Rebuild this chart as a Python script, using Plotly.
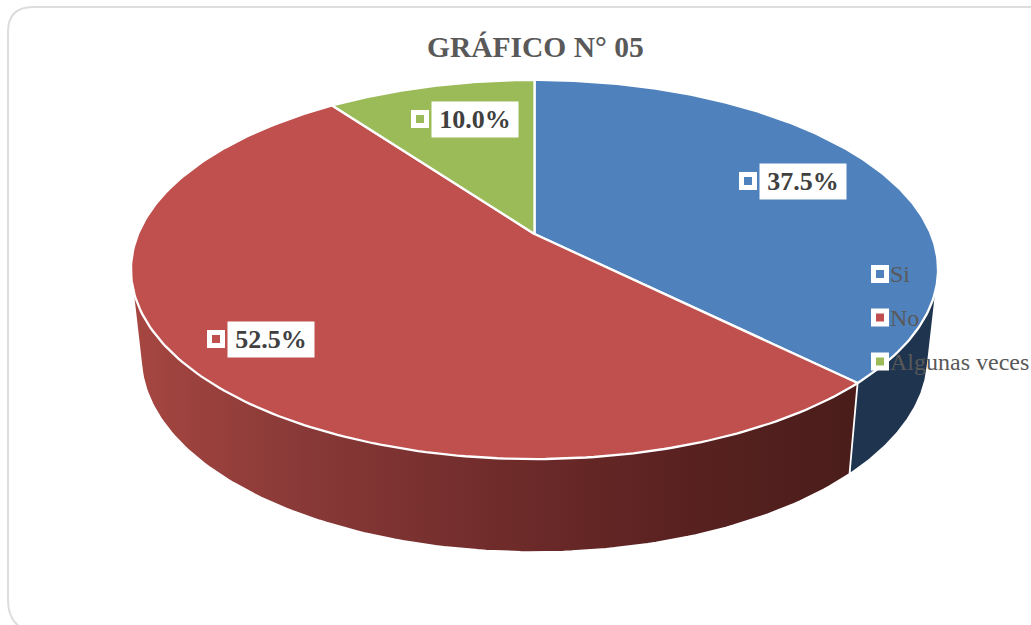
import numpy as np
import plotly.graph_objects as go

# ---- data ----
categories = ["Si", "No", "Algunas veces"]
values = [37.5, 52.5, 10.0]
title_text = "GRÁFICO N° 05"

# ---- style ----
top_colors = ["#4F81BD", "#C0504D", "#9BBB59"]
TEXT = "#404040"
GREY = "#595959"
SERIF = "Liberation Serif"

# ---- geometry of the tilted disc (page pixels) ----
CX, CY = 534.5, 234.0      # where the slices meet
RX, RY = 396.4, 182.9      # projected radii
PERSP = 0.1873             # perspective strength
BASE_SCALE = 0.975         # width of the base rim relative to the top rim
WALL, WALL_FRONT = 86.2, 6.8   # wall height, and how much it grows towards the viewer


def rim(theta_deg, base=False):
    t = np.radians(np.asarray(theta_deg, dtype=float))
    u, v = np.sin(t), -np.cos(t)
    w = 1 - PERSP * v
    x, y = CX + RX * u / w, CY + RY * v / w
    if base:
        x = CX + (x - CX) * BASE_SCALE
        y = y + WALL + WALL_FRONT * v
    return x, y


def hull(points):
    pts = sorted(set(points))
    def half(seq):
        out = []
        for p in seq:
            while len(out) > 1 and ((out[-1][0] - out[-2][0]) * (p[1] - out[-2][1])
                                    - (out[-1][1] - out[-2][1]) * (p[0] - out[-2][0])) <= 0:
                out.pop()
            out.append(p)
        return out[:-1]
    h = half(pts) + half(pts[::-1])
    return [p[0] for p in h] + [h[0][0]], [p[1] for p in h] + [h[0][1]]


def side_polygon(a0, a1):
    th = np.linspace(a0, a1, 160)
    xt, yt = rim(th)
    xb, yb = rim(th, base=True)
    return hull([(float(a), float(b)) for a, b in zip(np.r_[xt, xb], np.r_[yt, yb])])


fig = go.Figure()

edges = np.r_[0, np.cumsum(values)] / sum(values) * 360

# side walls: only those facing the viewer show
blue_end = edges[1]
x, y = side_polygon(60, blue_end)
fig.add_trace(go.Scatter(x=x, y=y, mode="lines", fill="toself", fillcolor="#1F344E",
                         line=dict(color="white", width=1.8), hoverinfo="skip", showlegend=False))
x, y = side_polygon(blue_end, 300)
fig.add_trace(go.Scatter(
    x=x, y=y, mode="lines", fill="toself",
    fillgradient=dict(type="horizontal", start=135, stop=850,
                      colorscale=[[0, "#A64641"], [0.22, "#8A3A38"], [0.5, "#702C2B"],
                                  [0.75, "#5A2221"], [1, "#4A1D1B"]]),
    line=dict(color="white", width=1.8), hoverinfo="skip", showlegend=False))

# top slices
for i, name in enumerate(categories):
    th = np.linspace(edges[i], edges[i + 1], 200)
    xr, yr = rim(th)
    fig.add_trace(go.Scatter(
        x=np.r_[CX, xr, CX], y=np.r_[CY, yr, CY], mode="lines", fill="toself",
        fillcolor=top_colors[i], line=dict(color="white", width=2.3),
        name=name, hoverinfo="skip", showlegend=False))

KEY = dict(symbol="square", size=13, line=dict(color="white", width=5))

# data labels
label_pos = {"Si": (803, 181), "No": (271, 339), "Algunas veces": (475, 119)}
annotations = []
for i, name in enumerate(categories):
    lx, ly = label_pos[name]
    annotations.append(dict(x=lx, y=ly, xref="x", yref="y", text=f"<b>{values[i]:.1f}%</b>",
                            showarrow=False, width=86, height=35, bgcolor="white", borderpad=0,
                            font=dict(family=SERIF, size=26, color=TEXT), align="center", valign="middle"))
    fig.add_trace(go.Scatter(x=[lx - 55], y=[ly], mode="markers", marker=dict(color=top_colors[i], **KEY),
                             hoverinfo="skip", showlegend=False))

# legend
legend_y = [274, 317.5, 361.5]
for i, name in enumerate(categories):
    fig.add_trace(go.Scatter(x=[880], y=[legend_y[i]], mode="markers", marker=dict(color=top_colors[i], **KEY),
                             hoverinfo="skip", showlegend=False))
    annotations.append(dict(x=888, y=legend_y[i], xref="x", yref="y", text=name, showarrow=False,
                            xanchor="left", yanchor="middle",
                            font=dict(family=SERIF, size=24, color=GREY)))

# title
annotations.append(dict(x=535, y=47, xref="x", yref="y", text=f"<b>{title_text}</b>", showarrow=False,
                        font=dict(family=SERIF, size=29.5, color=GREY)))

fig.update_layout(
    width=1031, height=625, margin=dict(l=0, r=0, t=0, b=0),
    paper_bgcolor="white", plot_bgcolor="white",
    xaxis=dict(range=[0, 1031], visible=False, fixedrange=True),
    yaxis=dict(range=[625, 0], visible=False, fixedrange=True),
    annotations=annotations,
    # chart frame: its right and bottom edges lie outside the page
    shapes=[dict(type="path", path="M 8 32 Q 8 7 33 7 L 1060 7 M 8 32 L 8 600 Q 8 622 25 630",
                 xref="x", yref="y", layer="below", line=dict(color="#DDDDDD", width=2))],
)

fig.write_html("out.html", config={"displayModeBar": False},
               post_script="document.body.style.margin='0';document.body.style.overflow='hidden';")
